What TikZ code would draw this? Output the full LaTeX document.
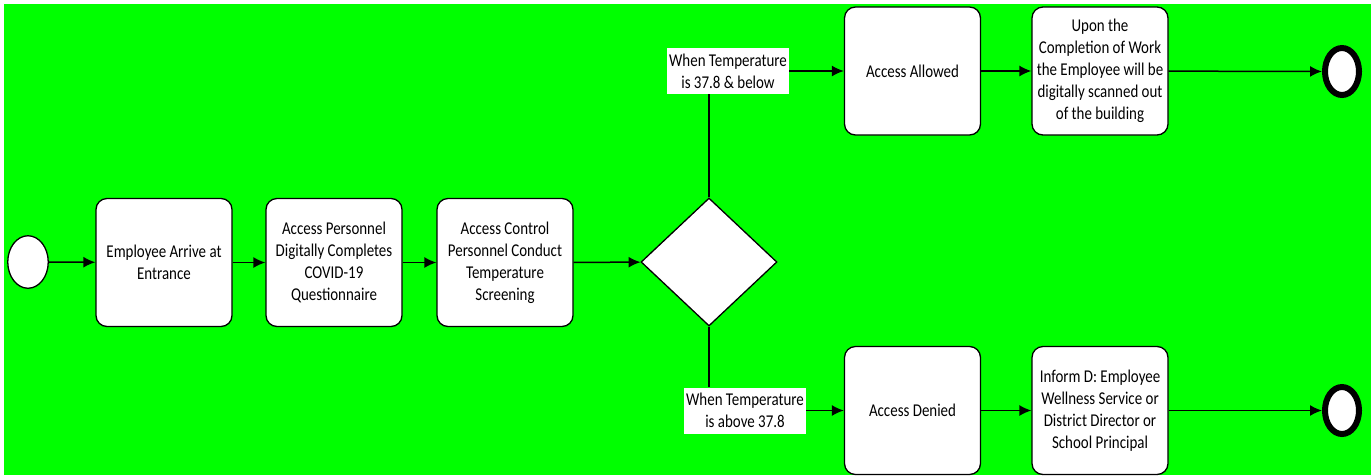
\documentclass[tikz,border=0pt]{standalone}
\usepackage{fontspec}
\setmainfont{Carlito}[FakeStretch=0.83]
\usepackage{tikz}
\usetikzlibrary{shapes.geometric,positioning,arrows.meta}
\definecolor{bggreen}{RGB}{0,255,0}

\begin{document}
\begin{tikzpicture}[x=1pt, y=-1pt, font=\fontsize{18}{22}\selectfont]
		\tikzset{>={Latex[length=12pt,width=11pt]}}
		\tikzset{task/.style={rectangle, rounded corners=11, minimum width=136, minimum height=128, line width=1.3pt, draw=black, fill=white, align=center, inner sep=2pt}}
		\tikzset{gateway/.style={diamond, minimum width=136, minimum height=128, inner sep=0pt, line width=1.3pt, draw=black, fill=white}}
		\tikzset{cond/.style={rectangle, fill=white, align=center, inner sep=1pt, minimum width=122, minimum height=46}}
		\tikzset{flow/.style={line width=1.5pt, draw=black}}

		\useasboundingbox (0,0) rectangle (1371,475);
		\fill[bggreen] (4,4) rectangle (1371,475);

		\node[ellipse, minimum width=40.5, minimum height=52.5, line width=1.3pt, draw=black, fill=white] (start) at (28,262) {};
		\node[task] (arrive) at (164,262.5) {Employee Arrive at\\Entrance};
		\node[task] (quest) at (334,262.5) {Access Personnel\\Digitally Completes\\COVID-19\\Questionnaire};
		\node[task] (screen) at (505,262.5) {Access Control\\Personnel Conduct\\Temperature\\Screening};
		\node[gateway] (gate) at (709,262) {};

		\path (start) edge[flow,->] (arrive);
		\path (arrive) edge[flow,->] (quest);
		\path (quest) edge[flow,->] (screen);
		\path (screen) edge[flow,->] (gate);

		%oberer zweig
		\node[task] (allowed) at (912.5,71) {Access Allowed};
		\node[task] (scanout) at (1100,71) {Upon the\\Completion of Work\\the Employee will be\\digitally scanned out\\of the building};
		\node[ellipse, minimum width=34, minimum height=47, line width=6pt, draw=black, fill=white] (endok) at (1342,71.5) {};
		\node[cond] (condok) at (728,71) {When Temperature\\is 37.8 \& below};

		\draw[flow] (gate.north) -- (gate.north |- condok.south);
		\path (condok) edge[flow,->] (allowed);
		\path (allowed) edge[flow,->] (scanout);
		\path (scanout) edge[flow,->] (endok);

		%unterer zweig
		\node[task] (denied) at (912.5,410.5) {Access Denied};
		\node[task] (inform) at (1100,410.5) {Inform D: Employee\\Wellness Service or\\District Director or\\School Principal};
		\node[ellipse, minimum width=34, minimum height=47, line width=6pt, draw=black, fill=white] (endno) at (1342,410.5) {};
		\node[cond] (condno) at (745,410.5) {When Temperature\\is above 37.8};

		\draw[flow] (gate.south) -- (gate.south |- condno.north);
		\path (condno) edge[flow,->] (denied);
		\path (denied) edge[flow,->] (inform);
		\path (inform) edge[flow,->] (endno);
\end{tikzpicture}
\end{document}
